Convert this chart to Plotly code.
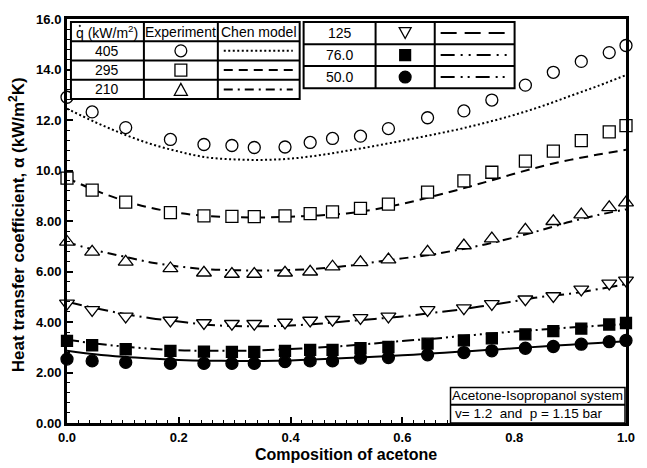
import plotly.graph_objects as go

# ---------------- data ----------------
x_exp = [0.0, 0.045, 0.105, 0.185, 0.245, 0.295, 0.335, 0.39, 0.435, 0.475,
         0.525, 0.575, 0.645, 0.71, 0.76, 0.82, 0.87, 0.92, 0.97, 1.0]
exp_405 = [12.90, 12.32, 11.70, 11.23, 11.03, 10.99, 10.91, 10.93, 11.11, 11.27,
           11.36, 11.66, 12.09, 12.36, 12.79, 13.38, 13.89, 14.32, 14.67, 14.95]
exp_295 = [9.70, 9.22, 8.75, 8.33, 8.20, 8.18, 8.17, 8.20, 8.29, 8.36,
           8.50, 8.67, 9.14, 9.59, 9.93, 10.37, 10.77, 11.18, 11.53, 11.78]
exp_210 = [7.17, 6.78, 6.38, 6.12, 5.95, 5.90, 5.90, 5.95, 5.99, 6.19,
           6.36, 6.47, 6.78, 7.03, 7.30, 7.65, 7.99, 8.25, 8.54, 8.73]
exp_125 = [4.74, 4.48, 4.22, 4.06, 3.96, 3.93, 3.93, 3.98, 4.06, 4.09,
           4.16, 4.22, 4.48, 4.55, 4.72, 4.90, 5.03, 5.29, 5.53, 5.65]
exp_76 = [3.25, 3.08, 2.92, 2.86, 2.83, 2.82, 2.82, 2.86, 2.90, 2.90,
          2.96, 3.01, 3.14, 3.27, 3.35, 3.51, 3.64, 3.74, 3.90, 3.96]
exp_50 = [2.53, 2.46, 2.40, 2.36, 2.36, 2.36, 2.36, 2.43, 2.46, 2.46,
          2.57, 2.59, 2.70, 2.79, 2.86, 2.96, 3.03, 3.12, 3.22, 3.27]

x_chen = [0.0, 0.05, 0.1, 0.15, 0.2, 0.25, 0.3, 0.35, 0.4, 0.45, 0.5,
          0.55, 0.6, 0.65, 0.7, 0.75, 0.8, 0.85, 0.9, 0.95, 1.0]
chen_405 = [12.45, 11.92, 11.45, 11.05, 10.75, 10.52, 10.44, 10.42, 10.47, 10.60, 10.78,
            10.97, 11.18, 11.40, 11.63, 11.90, 12.20, 12.55, 12.95, 13.35, 13.78]
chen_295 = [9.70, 9.22, 8.82, 8.52, 8.32, 8.20, 8.15, 8.14, 8.17, 8.22, 8.30,
            8.46, 8.68, 8.95, 9.24, 9.55, 9.87, 10.17, 10.42, 10.63, 10.82]
chen_210 = [7.16, 6.85, 6.60, 6.36, 6.20, 6.09, 6.05, 6.04, 6.06, 6.12, 6.22,
            6.37, 6.52, 6.66, 6.86, 7.08, 7.35, 7.65, 7.97, 8.24, 8.46]
chen_125 = [4.80, 4.55, 4.33, 4.15, 4.02, 3.89, 3.84, 3.83, 3.86, 3.93, 4.03,
            4.12, 4.22, 4.35, 4.48, 4.65, 4.82, 5.00, 5.12, 5.30, 5.50]
chen_76 = [3.30, 3.15, 3.03, 2.94, 2.88, 2.86, 2.86, 2.88, 2.93, 2.99, 3.06,
           3.15, 3.25, 3.33, 3.43, 3.53, 3.62, 3.70, 3.78, 3.85, 3.92]
chen_50 = [2.86, 2.72, 2.62, 2.55, 2.50, 2.47, 2.46, 2.46, 2.48, 2.52, 2.57,
           2.62, 2.68, 2.75, 2.82, 2.89, 2.96, 3.03, 3.10, 3.17, 3.24]

x_tickvals = [0.0, 0.2, 0.4, 0.6, 0.8, 1.0]
x_ticktext = ["0.0", "0.2", "0.4", "0.6", "0.8", "1.0"]
y_tickvals = [0, 2, 4, 6, 8, 10, 12, 14, 16]
y_ticktext = ["0.00", "2.00", "4.00", "6.00", "8.00", "10.0", "12.0", "14.0", "16.0"]

legend_q = ["405", "295", "210", "125", "76.0", "50.0"]

# ---------------- styles ----------------
FONT = "Liberation Sans, Arial, sans-serif"
curve_dash = ["2px,2.5px", "9px,6px", "9px,5px,2px,5px", "15px,5px,2px,5px",
              "12px,4px,2px,4px,2px,4px", "solid"]
legend_dash = ["2px,2.5px", "9px,6px", "9px,5px,2px,5px", "16px,8px",
               "14px,6px,2px,6px,2px,6px", "14px,6px,2px,5px,2px,6px"]

# plot area in pixels
L, T, W, H = 67, 14, 567, 409


def px(x):
    return (x - L) / W


def py(y):
    return (T + H - y) / H


fig = go.Figure()

chen_sets = [chen_405, chen_295, chen_210, chen_125, chen_76, chen_50]
for ys, d in zip(chen_sets, curve_dash):
    fig.add_trace(go.Scatter(x=x_chen, y=ys, mode="lines",
                             line=dict(color="black", width=2, dash=d, shape="spline", smoothing=1.0),
                             showlegend=False, hoverinfo="skip", cliponaxis=False))

exp_sets = [
    (exp_405, "circle", 12, "white"),
    (exp_295, "square", 12, "white"),
    (exp_210, "triangle-up", 13, "white"),
    (exp_125, "triangle-down", 13, "white"),
    (exp_76, "square", 11, "black"),
    (exp_50, "circle", 12, "black"),
]
for ys, sym, sz, fillc in exp_sets:
    fig.add_trace(go.Scatter(x=x_exp, y=ys, mode="markers",
                             marker=dict(symbol=sym, size=sz, color=fillc,
                                         line=dict(color="black", width=1.3)),
                             showlegend=False, cliponaxis=False))

shapes = []
annotations = []


def line(x0, y0, x1, y1, w=2, dash="solid"):
    shapes.append(dict(type="line", xref="paper", yref="paper",
                       x0=px(x0), y0=py(y0), x1=px(x1), y1=py(y1),
                       line=dict(color="black", width=w, dash=dash), layer="above"))


def text(x, y, s, size=14, family=FONT, weight="normal"):
    annotations.append(dict(xref="paper", yref="paper", x=px(x), y=py(y), text=s,
                            showarrow=False, xanchor="center", yanchor="middle",
                            font=dict(family=family, size=size, color="black", weight=weight)))


def rect(x0, y0, x1, y1, w=2, fill="white"):
    shapes.append(dict(type="rect", xref="paper", yref="paper",
                       x0=px(x0), y0=py(y0), x1=px(x1), y1=py(y1),
                       line=dict(color="black", width=w), fillcolor=fill, layer="above"))


def sym_circle(cx, cy, r, filled, lw=1.3):
    shapes.append(dict(type="circle", xref="paper", yref="paper",
                       x0=px(cx - r), x1=px(cx + r), y0=py(cy + r), y1=py(cy - r),
                       line=dict(color="black", width=lw),
                       fillcolor="black" if filled else "white", layer="above"))


def sym_square(cx, cy, h, filled):
    shapes.append(dict(type="rect", xref="paper", yref="paper",
                       x0=px(cx - h), x1=px(cx + h), y0=py(cy + h), y1=py(cy - h),
                       line=dict(color="black", width=1.3),
                       fillcolor="black" if filled else "white", layer="above"))


def sym_tri(cx, cy, s, up=True):
    hh = s * 0.5
    if up:
        pts = [(cx - s * 0.55, cy + hh), (cx + s * 0.55, cy + hh), (cx, cy - hh)]
    else:
        pts = [(cx - s * 0.55, cy - hh), (cx + s * 0.55, cy - hh), (cx, cy + hh)]
    path = "M " + " L ".join(f"{px(a)},{py(b)}" for a, b in pts) + " Z"
    shapes.append(dict(type="path", xref="paper", yref="paper", path=path,
                       line=dict(color="black", width=1.3), fillcolor="white", layer="above"))


# ---- legend table 1 ----
t1x = [71, 145, 220, 303]
t1y = [17, 36.5, 56, 75.5, 95]
rect(t1x[0], t1y[0], t1x[-1], t1y[-1], w=2)
for yy in t1y[1:-1]:
    line(t1x[0], yy, t1x[-1], yy, w=2)
for xx in t1x[1:-1]:
    line(xx, t1y[0], xx, t1y[-1], w=2)
hy = (t1y[0] + t1y[1]) / 2
text(107.5, hy + 0.5, "q (kW/m<sup>2</sup>)")
sym_circle(80.0, 21.0, 0.8, True, lw=0.5)   # dot over q
text(182.5, hy, "Experiment")
text(261.5, hy, "Chen model")
rows1 = [(t1y[i] + t1y[i + 1]) / 2 for i in range(1, 4)]
for i, cy in enumerate(rows1):
    text(107.5, cy, legend_q[i])
    line(226, cy, 296, cy, w=2, dash=legend_dash[i])
sym_circle(182.5, rows1[0], 6, False)
sym_square(182.5, rows1[1], 6, False)
sym_tri(182.5, rows1[2], 12, up=True)

# ---- legend table 2 ----
t2x = [307, 380, 440, 521]
t2y = [17, 39.5, 61.5, 84]
rect(t2x[0], t2y[0], t2x[-1], t2y[-1], w=2)
for yy in t2y[1:-1]:
    line(t2x[0], yy, t2x[-1], yy, w=2)
for xx in t2x[1:-1]:
    line(xx, t2y[0], xx, t2y[-1], w=2)
rows2 = [(t2y[i] + t2y[i + 1]) / 2 for i in range(3)]
for i, cy in enumerate(rows2):
    text(343.5, cy, legend_q[3 + i])
    line(446, cy, 514, cy, w=2, dash=legend_dash[3 + i])
sym_tri(410, rows2[0], 11, up=False)
sym_square(410, rows2[1], 5.5, True)
sym_circle(410, rows2[2], 6, True)

# ---- info box ----
rect(456, 387, 633, 423, w=1.5)
line(456, 404.5, 633, 404.5, w=2)
text(544.5, 395.5, "Acetone-Isopropanol system", size=13.5)
text(536, 413.5, "v= 1.2\u00a0 and\u00a0 p = 1.15 bar", size=13.5)

# ---- axis titles ----
text(350, 455, "Composition of acetone", size=16, weight="bold")
annotations.append(dict(xref="paper", yref="paper", x=px(17), y=py(222),
                        text="Heat transfer coefficient, \u03b1 (kW/m<sup>2</sup>K)",
                        textangle=-90, showarrow=False, xanchor="center", yanchor="middle",
                        font=dict(family=FONT, size=17, color="black", weight="bold")))

axis_common = dict(showgrid=False, zeroline=False, showline=True, linewidth=3,
                   linecolor="black", mirror=True, ticks="inside", ticklen=6,
                   tickwidth=1.5, tickcolor="black",
                   tickfont=dict(family=FONT, size=13, color="black", weight="bold"))

fig.update_layout(
    width=647, height=468,
    margin=dict(l=L, r=647 - L - W, t=T, b=468 - T - H),
    paper_bgcolor="white", plot_bgcolor="white",
    showlegend=False,
    xaxis=dict(range=[0, 1], tickmode="array", tickvals=x_tickvals, ticktext=x_ticktext,
               minor=dict(tickmode="linear", tick0=0, dtick=0.02, ticks="inside",
                          ticklen=3, tickwidth=1, tickcolor="black"),
               **axis_common),
    yaxis=dict(range=[0, 16], tickmode="array", tickvals=y_tickvals, ticktext=y_ticktext,
               minor=dict(tickmode="linear", tick0=0, dtick=0.4, ticks="inside",
                          ticklen=3, tickwidth=1, tickcolor="black"),
               **axis_common),
    shapes=shapes,
    annotations=annotations,
)

fig.write_html("out.html")
